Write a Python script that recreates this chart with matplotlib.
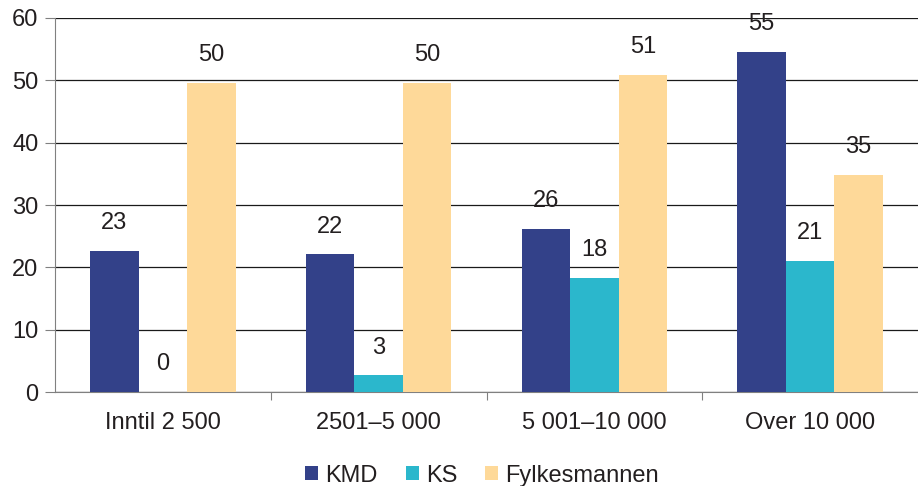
import numpy as np
import matplotlib.pyplot as plt

plt.rcParams['font.family'] = ['Liberation Sans', 'DejaVu Sans']

# Data
groups = ["Inntil 2 500", "2501–5 000", "5 001–10 000", "Over 10 000"]
series = ["KMD", "KS", "Fylkesmannen"]
kmd = [22.6, 22.1, 26.2, 54.6]
ks = [0.0, 2.7, 18.3, 21.0]
fylke = [49.6, 49.6, 50.9, 34.8]
colors = ["#334189", "#2bb7cc", "#fed999"]

fig = plt.figure(figsize=(9.18, 4.86), dpi=100)
ax = fig.add_axes([0.060, 0.193, 0.940, 0.770])

x = np.arange(len(groups))
w = 0.225
txt = "#231f20"
fs = 17

for i, (vals, name, col) in enumerate(zip([kmd, ks, fylke], series, colors)):
    pos = x + (i - 1) * w
    ax.bar(pos, vals, width=w, color=col, label=name, zorder=3)
    for p, v in zip(pos, vals):
        ax.text(p, v + 2.7, f"{round(v):d}", ha='center', va='bottom',
                fontsize=fs, color=txt)

ax.set_ylim(0, 60)
ax.set_xlim(-0.5, 3.5)
ax.set_yticks(range(0, 61, 10))
ax.yaxis.grid(True, color='#1a1a1a', linewidth=0.9, zorder=0)
ax.set_axisbelow(True)

# ticks between groups
ax.set_xticks(np.arange(0.5, 3.5, 1.0))
ax.set_xticklabels([])
ax.set_xticks(x, minor=True)
ax.set_xticklabels(groups, minor=True, fontsize=fs, color=txt)
ax.tick_params(axis='x', which='minor', length=0, pad=14)
ax.tick_params(axis='x', which='major', length=6, color='#808080', direction='out')
ax.tick_params(axis='y', length=7, color='#808080', labelsize=fs, labelcolor=txt, pad=5)

for s in ['top', 'right']:
    ax.spines[s].set_visible(False)
ax.spines['left'].set_color('#808080')
ax.spines['bottom'].set_color('#808080')

fig.legend(loc='lower center', ncol=3, frameon=False, fontsize=fs,
           bbox_to_anchor=(0.525, -0.045), handlelength=0.55, handleheight=0.55,
           handletextpad=0.3, columnspacing=1.2, labelcolor=txt)

fig.savefig("out.png", dpi=100)
